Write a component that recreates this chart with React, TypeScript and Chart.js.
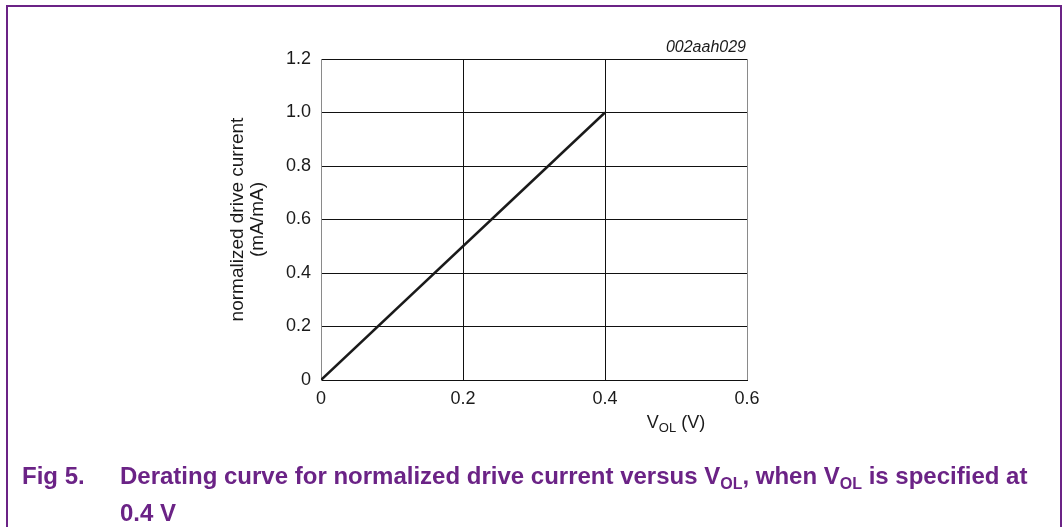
import React, { useEffect, useRef } from 'react';
import { Chart, registerables } from 'chart.js';

Chart.register(...registerables);

// ---- data ----
const vol = [0, 0.4];
const driveCurrent = [0, 1.0];
const xTickLabels = ['0', '0.2', '0.4', '0.6'];
const yTickLabels = ['0', '0.2', '0.4', '0.6', '0.8', '1.0', '1.2'];
const yTitle = ['normalized drive current', '(mA/mA)'];
const xTitleMain = 'V';
const xTitleSub = 'OL';
const xTitleRest = ' (V)';
const figCode = '002aah029';
const captionNo = 'Fig 5.';

const PURPLE = '#6b2386';
const INK = '#1a1a1a';
const FONT = '"Liberation Sans", Arial, sans-serif';

const annotPlugin = {
  id: 'annot',
  afterDraw(chart: any) {
    const { ctx, chartArea, scales } = chart;
    ctx.save();
    ctx.fillStyle = INK;
    ctx.textBaseline = 'alphabetic';
    // figure code
    ctx.font = `italic 16px ${FONT}`;
    ctx.textAlign = 'right';
    ctx.fillText(figCode, chartArea.right - 1, chartArea.top - 7);
    // x axis title with subscript
    const big = `18px ${FONT}`;
    const small = `13px ${FONT}`;
    ctx.textAlign = 'left';
    ctx.font = big;
    const w1 = ctx.measureText(xTitleMain).width;
    const w3 = ctx.measureText(xTitleRest).width;
    ctx.font = small;
    const w2 = ctx.measureText(xTitleSub).width;
    const total = w1 + w2 + w3;
    const cx = scales.x.getPixelForValue(0.5);
    const base = 428;
    let x = cx - total / 2;
    ctx.font = big;
    ctx.fillText(xTitleMain, x, base);
    x += w1;
    ctx.font = small;
    ctx.fillText(xTitleSub, x, base + 4);
    x += w2;
    ctx.font = big;
    ctx.fillText(xTitleRest, x, base);
    ctx.restore();
  },
};

export default function App() {
  const canvasRef = useRef<HTMLCanvasElement | null>(null);

  useEffect(() => {
    document.body.style.margin = '0';
    const canvas = canvasRef.current;
    if (!canvas) return;
    const chart = new Chart(canvas, {
      type: 'line',
      data: {
        datasets: [
          {
            data: vol.map((v, i) => ({ x: v, y: driveCurrent[i] })),
            borderColor: INK,
            borderWidth: 2.5,
            pointRadius: 0,
            fill: false,
            tension: 0,
          },
        ],
      },
      options: {
        responsive: false,
        animation: false,
        devicePixelRatio: 1,
        layout: { padding: { left: 228, top: 59, right: 316, bottom: 107 } },
        plugins: {
          legend: { display: false },
          tooltip: { enabled: false },
        },
        scales: {
          x: {
            type: 'linear',
            min: 0,
            max: 0.6,
            ticks: {
              stepSize: 0.2,
              padding: 8,
              color: INK,
              font: { family: FONT, size: 18 },
              maxRotation: 0,
              callback: (_v: any, i: number) => xTickLabels[i],
            },
            grid: {
              drawTicks: false,
              lineWidth: 1,
              color: (c: any) =>
                c.index === 0 || c.index === xTickLabels.length - 1 ? '#8a8a8a' : '#111',
            },
            border: { color: '#111', width: 1 },
            afterFit: (s: any) => {
              s.height = 40;
            },
          },
          y: {
            type: 'linear',
            min: 0,
            max: 1.2,
            ticks: {
              stepSize: 0.2,
              padding: 10,
              color: INK,
              font: { family: FONT, size: 18 },
              callback: (_v: any, i: number) => yTickLabels[i],
            },
            grid: { drawTicks: false, lineWidth: 1, color: '#111' },
            border: { color: '#8a8a8a', width: 1 },
            title: {
              display: true,
              text: yTitle,
              color: INK,
              padding: 0,
              font: { family: FONT, size: 19, lineHeight: 1.05 },
            },
            afterFit: (s: any) => {
              s.width = 93;
            },
          },
        },
      },
      plugins: [annotPlugin],
    } as any);
    return () => chart.destroy();
  }, []);

  const sub = { fontSize: 16, position: 'relative' as const, top: 5 };

  return (
    <div style={{ position: 'fixed', left: 0, top: 0, width: 1063, height: 527, background: '#fff', overflow: 'hidden' }}>
      <div
        style={{
          position: 'absolute',
          left: 6,
          top: 5,
          width: 1056,
          height: 600,
          boxSizing: 'border-box',
          border: `2px solid ${PURPLE}`,
        }}
      />
      <canvas
        ref={canvasRef}
        width={1063}
        height={527}
        style={{ position: 'absolute', left: 0, top: 0, width: 1063, height: 527 }}
      />
      <div
        style={{
          position: 'absolute',
          left: 22,
          top: 459,
          color: PURPLE,
          font: `bold 24px ${FONT}`,
          lineHeight: '34px',
        }}
      >
        {captionNo}
      </div>
      <div
        style={{
          position: 'absolute',
          left: 120,
          top: 459,
          width: 930,
          color: PURPLE,
          font: `bold 24px ${FONT}`,
          lineHeight: '34px',
          whiteSpace: 'nowrap',
        }}
      >
        Derating curve for normalized drive current versus V
        <span style={sub}>OL</span>, when V
        <span style={sub}>OL</span> is specified at
        <br />
        0.4 V
      </div>
    </div>
  );
}
